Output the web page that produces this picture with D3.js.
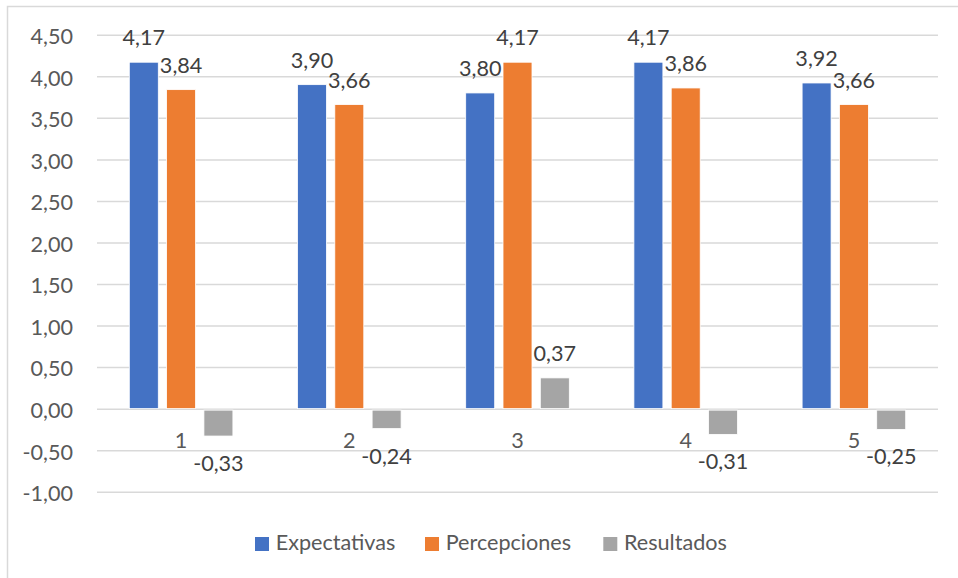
<!DOCTYPE html>
<html>
<head>
<meta charset="utf-8">
<script src="https://cdn.jsdelivr.net/npm/d3@7"></script>
<style>
  html, body { margin: 0; padding: 0; background: #fff; }
  svg { display: block; font-family: Lato, "Open Sans", sans-serif; }
</style>
</head>
<body>
<svg id="chart" width="958" height="578"></svg>
<script>
// Survey dimensions and scores
const categories = ["1", "2", "3", "4", "5"];
const seriesNames = ["Expectativas", "Percepciones", "Resultados"];
const expectativas = [4.17, 3.90, 3.80, 4.17, 3.92];
const percepciones = [3.84, 3.66, 4.17, 3.86, 3.66];
const resultados = [-0.33, -0.24, 0.37, -0.31, -0.25];
const yTicks = [-1, -0.5, 0, 0.5, 1, 1.5, 2, 2.5, 3, 3.5, 4, 4.5];
const colors = ["#4472C4", "#ED7D31", "#A5A5A5"];

const seriesValues = [expectativas, percepciones, resultados];
const rows = categories.map((c, i) => ({
  cat: c,
  vals: seriesNames.map((s, k) => ({ key: s, value: seriesValues[k][i], color: colors[k] }))
}));

const svg = d3.select("#chart");
const fontSize = 21.6;

// chart frame
svg.append("rect")
  .attr("x", 7.5).attr("y", 6.5)
  .attr("width", 1000).attr("height", 1000)
  .attr("fill", "#fff").attr("stroke", "#d9d9d9").attr("stroke-width", 1.5);

const left = 97, right = 938;
const y = d3.scaleLinear().domain([-1, 4.5]).range([491.7, 34.8]);
const x0 = d3.scaleBand().domain(categories).range([left, right]).paddingInner(0);
const x1 = d3.scaleBand().domain(seriesNames).range([-51.8, 51.8]).paddingInner(0.223);

const locale = d3.formatLocale({ decimal: ",", thousands: ".", grouping: [3], currency: ["", ""], minus: "-" });
const fmt = locale.format(".2f");

// value axis with gridlines
const yAxis = d3.axisLeft(y)
  .tickValues(yTicks)
  .tickSize(-(right - left))
  .tickPadding(24)
  .tickFormat(fmt);

const gy = svg.append("g").attr("transform", `translate(${left},0)`).call(yAxis);
gy.select(".domain").remove();
gy.selectAll(".tick line").attr("stroke", "#d9d9d9").attr("stroke-width", 1.5);
gy.selectAll(".tick text")
  .attr("fill", "#595959")
  .attr("font-size", fontSize)
  .attr("font-family", "Lato, 'Open Sans', sans-serif")
  .attr("dy", "0.41em");

// category axis labels along the zero line
const xAxis = d3.axisBottom(x0).tickSize(0).tickPadding(24);
const gx = svg.append("g").attr("transform", `translate(0,${y(0)})`).call(xAxis);
gx.select(".domain").remove();
gx.selectAll(".tick text")
  .attr("fill", "#595959")
  .attr("font-size", fontSize)
  .attr("font-family", "Lato, 'Open Sans', sans-serif");

// bars
const groups = svg.append("g").selectAll("g")
  .data(rows).join("g")
  .attr("transform", d => `translate(${x0(d.cat) + x0.bandwidth() / 2},0)`);

groups.selectAll("rect")
  .data(d => d.vals).join("rect")
  .attr("x", d => x1(d.key))
  .attr("width", x1.bandwidth())
  .attr("y", d => d.value >= 0 ? y(d.value) : y(0) + 1.5)
  .attr("height", d => d.value >= 0 ? y(0) - y(d.value) : y(d.value) - y(0) - 1.5)
  .attr("fill", d => d.color)
  .attr("stroke", "#fff")
  .attr("stroke-width", 0.8);

// data labels
groups.selectAll("text.val")
  .data(d => d.vals).join("text")
  .attr("class", "val")
  .attr("x", d => x1(d.key) + x1.bandwidth() / 2)
  .attr("y", d => d.value >= 0 ? y(d.value) - 17 : y(d.value) + 35)
  .attr("text-anchor", "middle")
  .attr("font-size", fontSize)
  .attr("fill", "#404040")
  .text(d => fmt(d.value));

// legend
const legendX = [255, 425, 603.3];
const legend = svg.append("g").selectAll("g")
  .data(seriesNames).join("g")
  .attr("transform", (d, i) => `translate(${legendX[i]},537)`);
legend.append("rect")
  .attr("width", 14).attr("height", 14)
  .attr("fill", (d, i) => colors[i]);
legend.append("text")
  .attr("x", 20.7).attr("y", 13.3)
  .attr("font-size", fontSize)
  .attr("fill", "#595959")
  .text(d => d);
</script>
</body>
</html>
